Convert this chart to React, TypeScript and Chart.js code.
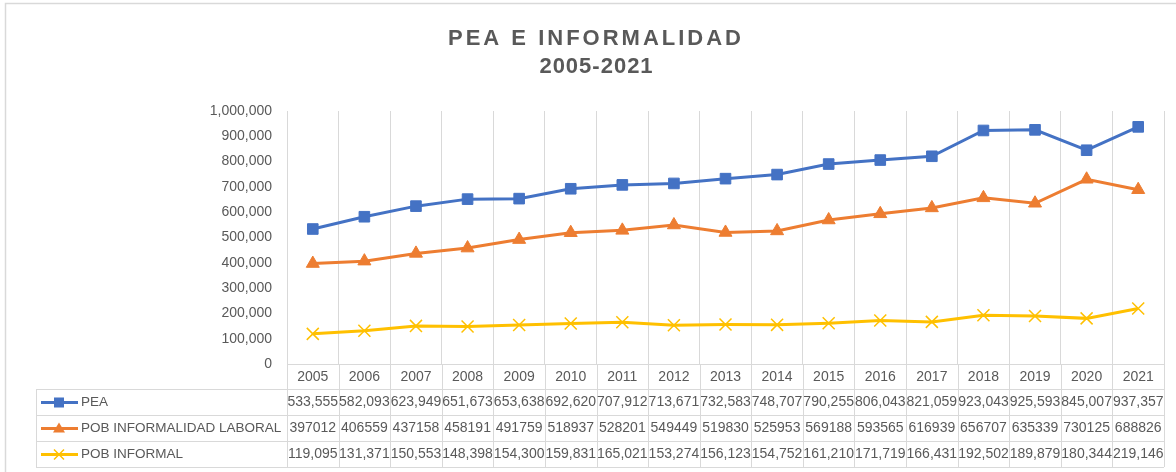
import React, { useEffect, useRef } from "react";
import { Chart, registerables } from "chart.js";

Chart.register(...registerables);

const TITLE_LINES = ["PEA E INFORMALIDAD", "2005-2021"];
const YEARS = ["2005", "2006", "2007", "2008", "2009", "2010", "2011", "2012", "2013", "2014", "2015", "2016", "2017", "2018", "2019", "2020", "2021"];
const PEA = [533555, 582093, 623949, 651673, 653638, 692620, 707912, 713671, 732583, 748707, 790255, 806043, 821059, 923043, 925593, 845007, 937357];
const POB_INF_LABORAL = [397012, 406559, 437158, 458191, 491759, 518937, 528201, 549449, 519830, 525953, 569188, 593565, 616939, 656707, 635339, 730125, 688826];
const POB_INFORMAL = [119095, 131371, 150553, 148398, 154300, 159831, 165021, 153274, 156123, 154752, 161210, 171719, 166431, 192502, 189879, 180344, 219146];
const SERIES_NAMES = ["PEA", "POB INFORMALIDAD LABORAL", "POB INFORMAL"];
const SERIES_COLORS = ["#4472C4", "#ED7D31", "#FFC000"];
const SERIES_STYLES = ["rect", "triangle", "crossRot"];
const SERIES_COMMAS = [true, false, true];
const Y_MIN = 0;
const Y_MAX = 1000000;
const Y_STEP = 100000;

const FONT = "'Liberation Sans', Arial, sans-serif";
const GRID = "#d9d9d9";
const TEXT = "#595959";

function fmt(v: number, commas: boolean) {
  return commas ? v.toLocaleString("en-US") : String(v);
}

function drawMarker(ctx: CanvasRenderingContext2D, style: string, x: number, y: number, color: string) {
  ctx.save();
  ctx.fillStyle = color;
  ctx.strokeStyle = color;
  if (style === "rect") {
    ctx.fillRect(x - 5, y - 5, 10, 10);
  } else if (style === "triangle") {
    ctx.beginPath();
    ctx.moveTo(x, y - 6);
    ctx.lineTo(x + 6, y + 4);
    ctx.lineTo(x - 6, y + 4);
    ctx.closePath();
    ctx.fill();
  } else {
    ctx.lineWidth = 1.5;
    ctx.beginPath();
    ctx.moveTo(x - 5, y - 5);
    ctx.lineTo(x + 5, y + 5);
    ctx.moveTo(x + 5, y - 5);
    ctx.lineTo(x - 5, y + 5);
    ctx.stroke();
  }
  ctx.restore();
}

const framePlugin = {
  id: "frameTitle",
  beforeDraw(chart: any) {
    const ctx: CanvasRenderingContext2D = chart.ctx;
    ctx.save();
    ctx.fillStyle = "#ffffff";
    ctx.fillRect(0, 0, chart.width, chart.height);
    ctx.strokeStyle = GRID;
    ctx.lineWidth = 1.5;
    ctx.strokeRect(5.5, 3.5, chart.width + 40, chart.height + 40);
    ctx.fillStyle = TEXT;
    ctx.textAlign = "center";
    ctx.textBaseline = "alphabetic";
    ctx.font = `bold 22px ${FONT}`;
    (ctx as any).letterSpacing = "3px";
    ctx.fillText(TITLE_LINES[0], 596, 44.5);
    (ctx as any).letterSpacing = "1px";
    ctx.fillText(TITLE_LINES[1], 596.5, 72.5);
    ctx.restore();
  },
};

const tablePlugin = {
  id: "dataTable",
  afterDraw(chart: any) {
    const ctx: CanvasRenderingContext2D = chart.ctx;
    const area = chart.chartArea;
    const n = YEARS.length;
    const colW = (area.right - area.left) / n;
    const yearTop = area.bottom;
    const yearRowH = 25;
    const rowH = 26;
    const tableTop = yearTop + yearRowH;
    const seriesData = [PEA, POB_INF_LABORAL, POB_INFORMAL];
    const tableBottom = tableTop + rowH * seriesData.length;
    const tableLeft = 36;
    const px = (v: number) => Math.round(v) + 0.5;

    ctx.save();
    ctx.strokeStyle = GRID;
    ctx.lineWidth = 1;
    ctx.beginPath();
    for (let i = 0; i <= n; i++) {
      const x = px(area.left + i * colW);
      ctx.moveTo(x, yearTop);
      ctx.lineTo(x, tableBottom);
    }
    ctx.moveTo(px(tableLeft), tableTop);
    ctx.lineTo(px(tableLeft), tableBottom);
    for (let r = 0; r <= seriesData.length; r++) {
      const y = px(tableTop + r * rowH);
      ctx.moveTo(tableLeft, y);
      ctx.lineTo(area.right, y);
    }
    ctx.stroke();

    ctx.fillStyle = TEXT;
    ctx.textBaseline = "middle";
    ctx.textAlign = "center";
    ctx.font = `14px ${FONT}`;
    const xs = chart.scales.x;
    YEARS.forEach((yr, i) => {
      ctx.fillText(yr, xs.getPixelForValue(i), yearTop + yearRowH / 2 + 0.5);
    });

    seriesData.forEach((data, r) => {
      const cy = tableTop + r * rowH + rowH / 2 + 0.5;
      ctx.fillStyle = TEXT;
      ctx.textAlign = "center";
      ctx.font = `14px ${FONT}`;
      data.forEach((v, i) => {
        ctx.fillText(fmt(v, SERIES_COMMAS[r]), xs.getPixelForValue(i), cy);
      });
      ctx.strokeStyle = SERIES_COLORS[r];
      ctx.lineWidth = 3;
      ctx.beginPath();
      ctx.moveTo(41, cy);
      ctx.lineTo(78, cy);
      ctx.stroke();
      drawMarker(ctx, SERIES_STYLES[r], 59, cy, SERIES_COLORS[r]);
      ctx.fillStyle = TEXT;
      ctx.textAlign = "left";
      ctx.font = `13.5px ${FONT}`;
      ctx.fillText(SERIES_NAMES[r], 81, cy);
    });
    ctx.restore();
  },
};

export default function App() {
  const ref = useRef<HTMLCanvasElement>(null);
  useEffect(() => {
    if (!ref.current) return;
    const chart = new Chart(ref.current, {
      type: "line",
      data: {
        labels: YEARS,
        datasets: [PEA, POB_INF_LABORAL, POB_INFORMAL].map((d, i) => ({
          label: SERIES_NAMES[i],
          data: d,
          borderColor: SERIES_COLORS[i],
          backgroundColor: SERIES_COLORS[i],
          pointBackgroundColor: SERIES_COLORS[i],
          pointBorderColor: SERIES_COLORS[i],
          pointStyle: SERIES_STYLES[i] as any,
          pointRadius: i === 0 ? 7.5 : i === 1 ? 7.5 : 8.5,
          pointBorderWidth: i === 2 ? 1.5 : 1,
          borderWidth: 3,
          tension: 0,
          fill: false,
        })),
      },
      options: {
        animation: false,
        responsive: false,
        devicePixelRatio: 1,
        layout: { padding: { left: 0, right: 12, top: 111, bottom: 108 } },
        plugins: {
          legend: { display: false },
          title: { display: false },
          tooltip: { enabled: false },
        },
        scales: {
          x: {
            type: "category",
            offset: true,
            grid: { display: true, offset: true, color: GRID, lineWidth: 1, drawTicks: false },
            border: { display: true, color: GRID, width: 1 },
            ticks: { display: false },
            afterFit: (s: any) => {
              s.height = 0;
            },
          },
          y: {
            min: Y_MIN,
            max: Y_MAX,
            grid: { display: false, drawTicks: false },
            border: { display: false },
            ticks: {
              stepSize: Y_STEP,
              padding: 15,
              color: TEXT,
              font: { family: FONT, size: 14 },
              callback: (v: any) => Number(v).toLocaleString("en-US"),
            },
            afterFit: (s: any) => {
              s.width = 287;
            },
          },
        },
      },
      plugins: [framePlugin, tablePlugin],
    });
    return () => chart.destroy();
  }, []);
  return (
    <div style={{ position: "absolute", left: 0, top: 0, width: 1176, height: 472, background: "#fff" }}>
      <canvas ref={ref} width={1176} height={472} style={{ display: "block", width: 1176, height: 472 }} />
    </div>
  );
}
